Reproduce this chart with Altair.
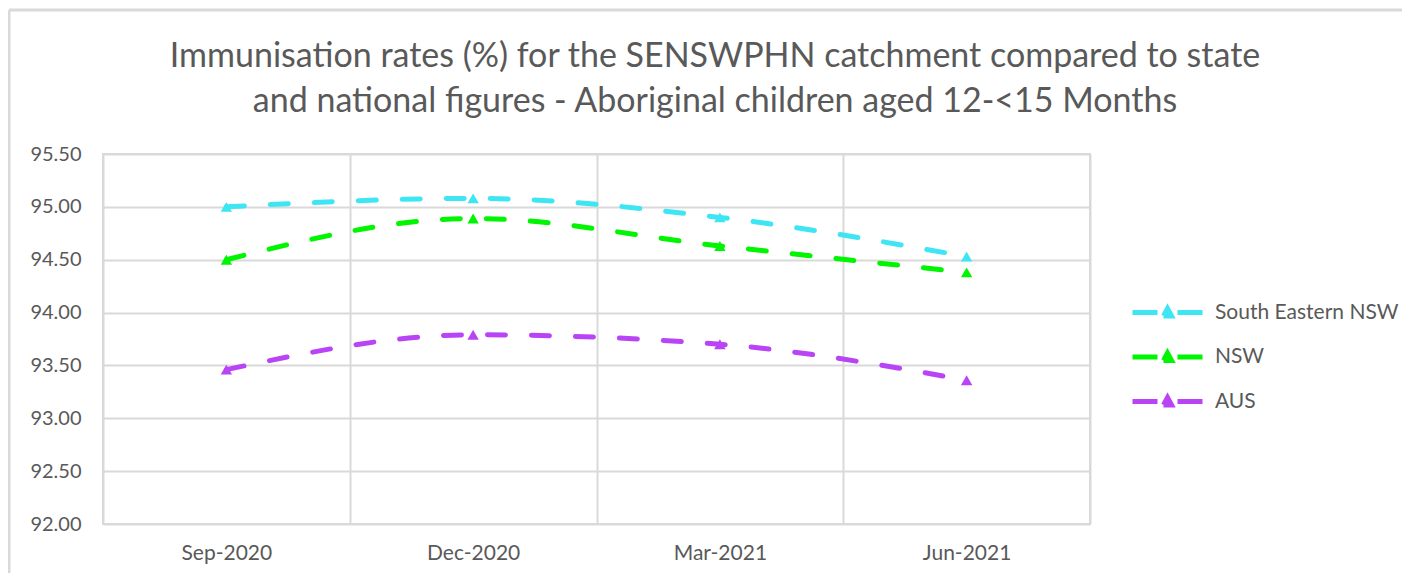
import altair as alt
import pandas as pd

quarters = ["Sep-2020", "Dec-2020", "Mar-2021", "Jun-2021"]
series_names = ["South Eastern NSW", "NSW", "AUS"]
se_nsw = [95.00, 95.08, 94.90, 94.53]
nsw = [94.50, 94.89, 94.63, 94.38]
aus = [93.46, 93.79, 93.70, 93.36]
colors = ["#3DE6F2", "#00F500", "#B944F5"]

rows = []
for name, vals in zip(series_names, [se_nsw, nsw, aus]):
    for q, v in zip(quarters, vals):
        rows.append({"Quarter": q, "Series": name, "Rate": v})
df = pd.DataFrame(rows)

FONT = "Lato"
GREY = "#595959"
BORDER = "#d9d9d9"

legend = alt.Legend(
    title=None, orient="none", legendX=1042, legendY=136,
    symbolType="M-1.75,0L-0.5,0M0.5,0L1.75,0M-0.2,0.17L0,-0.2L0.2,0.17Z",
    symbolSize=1600, symbolStrokeWidth=5, symbolDash=[1000, 0],
    labelFont=FONT, labelFontSize=21, labelColor=GREY, labelOffset=25,
    rowPadding=8.5, labelLimit=300,
)

x = alt.X("Quarter:N", sort=quarters, title=None,
          scale=alt.Scale(type="band", paddingInner=0, paddingOuter=0),
          axis=alt.Axis(grid=True, tickBand="extent", ticks=False, domain=False,
                        labelAngle=0, labelFont=FONT, labelFontSize=21,
                        labelColor=GREY, labelPadding=18, gridColor=BORDER,
                        gridWidth=2))
y = alt.Y("Rate:Q", title=None,
          scale=alt.Scale(domain=[92, 95.5], nice=False, zero=False),
          axis=alt.Axis(values=[92, 92.5, 93, 93.5, 94, 94.5, 95, 95.5], format=".2f",
                        ticks=False, domain=False, labelFont=FONT, labelFontSize=20,
                        labelColor=GREY, labelPadding=22, gridColor=BORDER,
                        gridWidth=2))
color = alt.Color("Series:N", sort=series_names,
                  scale=alt.Scale(domain=series_names, range=colors), legend=legend)

lines = alt.Chart(df).mark_line(
    interpolate="monotone", strokeWidth=5, strokeDash=[18, 26], strokeCap="round"
).encode(x=x, y=y, color=color)

points = alt.Chart(df).mark_point(
    shape="triangle-up", filled=True, size=130, opacity=1
).encode(x=x, y=y, color=color)

# outer chart frame (decoration, top and left edges)
frame_df = pd.DataFrame({"k": [0]})
frame_top = alt.Chart(frame_df).mark_rule(color=BORDER, strokeWidth=3).encode(
    x=alt.value(-94), x2=alt.value(1318), y=alt.value(-144))
frame_left = alt.Chart(frame_df).mark_rule(color=BORDER, strokeWidth=3).encode(
    x=alt.value(-94), y=alt.value(-144), y2=alt.value(430))

chart = alt.layer(frame_top, frame_left, lines, points).properties(
    width=987, height=370,
    autosize=alt.AutoSizeParams(type="none"),
    padding={"left": 95, "top": 146, "right": 312, "bottom": 49},
    title=alt.Title(
        ["Immunisation rates (%) for the SENSWPHN catchment compared to state",
         "and national figures - Aboriginal children aged 12-<15 Months"],
        font=FONT, fontSize=34, fontWeight="normal", color=GREY,
        anchor="middle", frame="bounds", lineHeight=45, offset=27, dy=137,
    ),
).configure_view(stroke=BORDER, strokeWidth=2)

chart.save("out.html", embed_options={"renderer": "svg", "actions": False})
